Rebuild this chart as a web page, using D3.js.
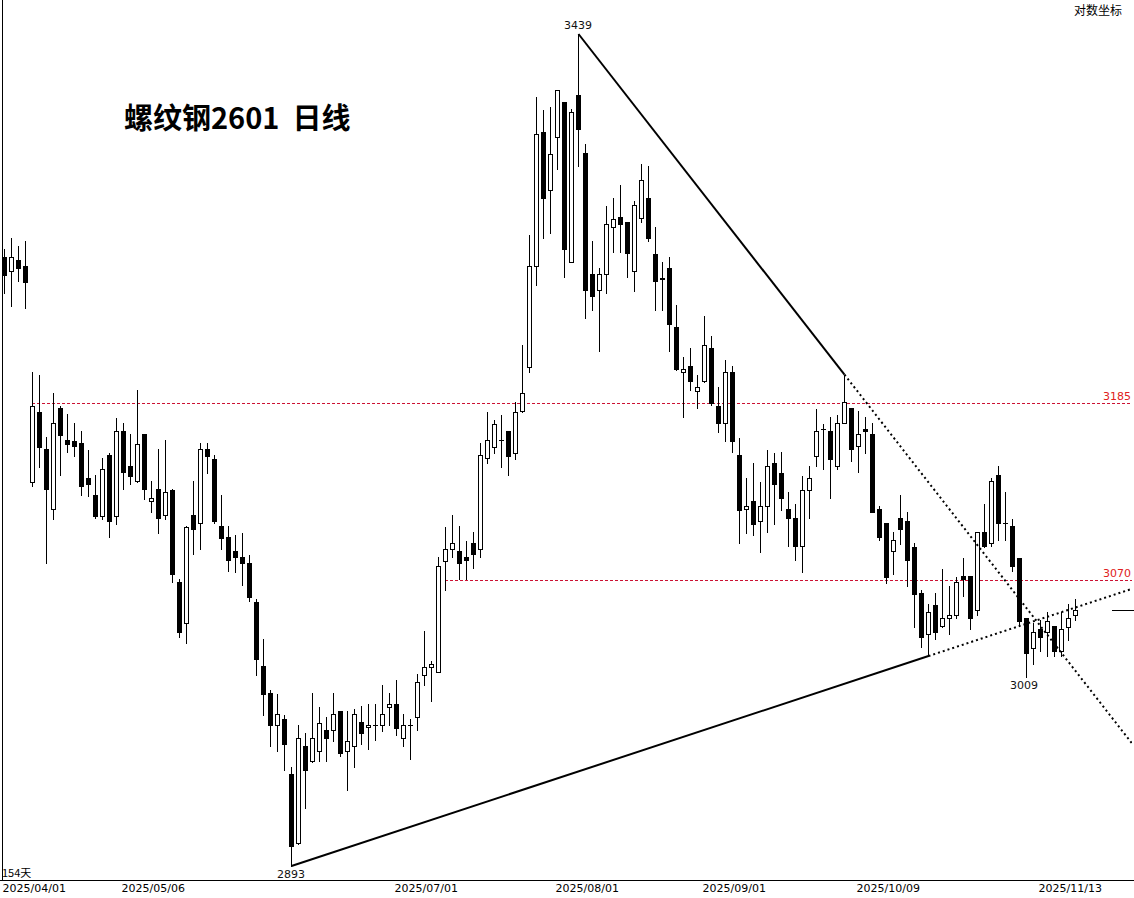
<!DOCTYPE html>
<html><head><meta charset="utf-8">
<script src="https://cdn.jsdelivr.net/npm/d3@7/dist/d3.min.js"></script>
<style>
html,body{margin:0;padding:0;background:#fff;}
svg{display:block;}
</style></head>
<body>
<svg id="chart" width="1134" height="898"></svg>
<script>
// ---- data: 螺纹钢2601 daily OHLC (154 bars) ----
const openP = [3283,3274,3281,3277,3133,3179,3155,3116,3182,3161,
3160,3159,3136,3125,3111,3151,3111,3167,3144,3134,
3165,3121,3129,3112,3128,3069,3043,3112,3107,3155,
3148,3105,3098,3089,3085,3081,3056,3016,2999,2979,
2983,2949,2907,2966,2957,2963,2976,2976,2988,2963,
2966,2981,2978,2979,2979,2990,2992,2971,2979,2984,
3010,3015,3012,3082,3090,3089,3085,3094,3090,3149,
3156,3161,3167,3152,3180,3209,3277,3370,3329,3366,
3391,3280,3396,3355,3272,3261,3272,3304,3311,3307,
3274,3310,3324,3285,3268,3276,3236,3206,3210,3193,
3200,3222,3183,3172,3206,3151,3116,3121,3108,3118,
3146,3139,3116,3110,3092,3128,3150,3168,3167,3144,
3172,3182,3157,3168,3165,3116,3107,3089,3110,3108,
3091,3062,3036,3054,3041,3046,3048,3073,3073,3051,
3101,3094,3138,3107,3105,3084,3046,3027,3039,3037,
3041,3025,3040,3048];
const highP = [3289,3296,3291,3294,3206,3204,3163,3192,3183,3178,
3172,3167,3154,3138,3149,3152,3175,3172,3165,3194,
3165,3134,3155,3161,3129,3071,3105,3134,3159,3159,
3151,3125,3105,3099,3100,3086,3058,3033,3001,2998,
2985,2953,2979,2974,2999,2990,2984,2999,2988,2988,
2989,2991,2992,2992,3004,2999,3007,2986,2983,3011,
3038,3019,3085,3104,3112,3105,3095,3101,3159,3179,
3174,3177,3167,3186,3224,3298,3394,3385,3387,3399,
3391,3386,3439,3361,3294,3276,3318,3324,3333,3307,
3322,3347,3346,3304,3280,3283,3251,3216,3222,3204,
3243,3230,3196,3214,3210,3162,3136,3146,3133,3154,
3152,3153,3127,3119,3137,3144,3181,3171,3176,3177,
3204,3182,3180,3176,3172,3118,3107,3101,3125,3114,
3094,3064,3055,3062,3077,3066,3072,3084,3073,3101,
3119,3136,3144,3127,3109,3084,3046,3043,3045,3050,
3041,3050,3055,3058];
const lowP = [3259,3250,3267,3249,3131,3143,3081,3109,3138,3153,
3150,3125,3124,3110,3109,3098,3106,3129,3132,3133,
3122,3114,3100,3109,3069,3034,3030,3087,3090,3139,
3107,3090,3076,3075,3067,3057,3010,2985,2966,2963,
2951,2893,2906,2928,2956,2957,2957,2969,2960,2939,
2953,2967,2964,2970,2975,2979,2973,2966,2958,2976,
3004,2994,3012,3064,3085,3071,3071,3078,3085,3146,
3152,3143,3138,3148,3179,3206,3264,3296,3300,3344,
3270,3280,3346,3242,3247,3220,3259,3287,3287,3270,
3260,3307,3294,3247,3247,3220,3207,3176,3194,3182,
3199,3184,3166,3160,3153,3094,3100,3099,3088,3101,
3106,3115,3092,3083,3075,3110,3144,3142,3123,3142,
3172,3147,3140,3152,3114,3096,3068,3074,3093,3066,
3040,3028,3022,3033,3040,3036,3046,3060,3039,3048,
3091,3092,3096,3096,3076,3042,3009,3017,3025,3022,
3022,3022,3032,3045];
const closeP = [3271,3283,3276,3266,3183,3156,3129,3172,3164,3158,
3157,3131,3132,3111,3142,3108,3167,3140,3137,3158,
3129,3123,3110,3127,3074,3037,3104,3103,3155,3150,
3108,3097,3083,3085,3081,3059,3020,2998,2979,2986,
2967,2905,2971,2951,2971,2980,2971,2986,2962,2969,
2986,2974,2979,2979,2986,2992,2977,2979,2979,3006,
3015,3017,3079,3090,3094,3081,3083,3087,3151,3161,
3171,3161,3150,3179,3192,3277,3368,3324,3354,3399,
3289,3384,3372,3261,3257,3272,3306,3309,3306,3286,
3319,3336,3296,3267,3269,3238,3208,3208,3200,3196,
3224,3185,3172,3206,3160,3115,3118,3106,3118,3144,
3132,3123,3110,3092,3128,3136,3167,3168,3148,3172,
3186,3155,3165,3167,3114,3098,3072,3096,3103,3083,
3061,3034,3050,3037,3046,3048,3069,3071,3046,3101,
3092,3134,3107,3107,3079,3044,3024,3037,3034,3044,
3025,3039,3046,3051];

const tickIndex = [0, 17, 56, 79, 100, 122, 148];
const tickLabels = ["2025/04/01","2025/05/06","2025/07/01","2025/08/01","2025/09/01","2025/10/09","2025/11/13"];

// horizontal levels [price, start bar]
const levelPrices = [3185, 3070];
const levelStart = [4, 63];

// trend lines: anchor bars and prices
const trendA = {i1: 82, p1: 3439, i2: 120, p2: 3204};
const trendB = {i1: 41, p1: 2893, i2: 132, p2: 3022};

// marked extremes [bar, price]
const markIdx = [82, 41, 146];
const markPrice = [3439, 2893, 3009];

const titleText = "螺纹钢2601  日线";

// ---- drawing ----
const svg = d3.select("#chart");
const W = 1134, H = 898;
const plotL = 2, plotR = 1132, plotB = 880;
const n = openP.length;

const x = d3.scaleLinear().domain([0, n - 1]).range([4, 4 + 7 * (n - 1)]);
const y = d3.scaleLog().domain([2893, 3439]).range([866, 34]);

svg.append("rect").attr("width", W).attr("height", H).attr("fill", "#fff");

svg.append("defs").append("clipPath").attr("id", "plotClip")
  .append("rect").attr("x", plotL).attr("y", 0).attr("width", plotR - plotL).attr("height", plotB);

// frame
svg.append("line").attr("x1", plotL + 0.5).attr("x2", plotL + 0.5).attr("y1", 0).attr("y2", plotB)
  .attr("stroke", "#000").attr("stroke-width", 1);
svg.append("line").attr("x1", 0).attr("x2", W).attr("y1", plotB + 0.5).attr("y2", plotB + 0.5)
  .attr("stroke", "#000").attr("stroke-width", 1);

// horizontal levels
const lev = svg.append("g");
levelPrices.forEach((p, k) => {
  const yy = Math.round(y(p)) + 0.5;
  lev.append("line").attr("x1", x(levelStart[k])).attr("x2", plotR).attr("y1", yy).attr("y2", yy)
    .attr("stroke", "#cc1133").attr("stroke-width", 1).attr("stroke-dasharray", "3,2")
    .attr("shape-rendering", "crispEdges");
  lev.append("text").attr("x", plotR - 1).attr("y", yy - 4).attr("text-anchor", "end")
    .attr("font-family", "DejaVu Sans, sans-serif").attr("font-size", 11).attr("fill", "#e02020")
    .text(p);
});

// candles
const g = svg.append("g").attr("clip-path", "url(#plotClip)");
const idx = d3.range(n);
g.selectAll("line.wick").data(idx).enter().append("line")
  .attr("class", "wick")
  .attr("x1", i => x(i) + 0.5).attr("x2", i => x(i) + 0.5)
  .attr("y1", i => Math.round(y(highP[i]))).attr("y2", i => Math.round(y(lowP[i])) + 1)
  .attr("stroke", "#000").attr("stroke-width", 1);

idx.forEach(i => {
  const top = Math.round(y(Math.max(openP[i], closeP[i])));
  const bot = Math.round(y(Math.min(openP[i], closeP[i])));
  const up = closeP[i] >= openP[i];
  if (bot - top < 1) {
    g.append("line").attr("x1", x(i) - 2).attr("x2", x(i) + 3).attr("y1", top + 0.5).attr("y2", top + 0.5)
      .attr("stroke", "#000").attr("stroke-width", 1);
  } else {
    g.append("rect").attr("x", x(i) - 1.5).attr("y", top + 0.5).attr("width", 4).attr("height", bot - top)
      .attr("fill", up ? "#fff" : "#000").attr("stroke", "#000").attr("stroke-width", 1);
  }
});

// trend lines
function drawTrend(t) {
  const x1 = x(t.i1), y1 = y(t.p1), x2 = x(t.i2), y2 = y(t.p2);
  const slope = (y2 - y1) / (x2 - x1);
  const xe = plotR, ye = y2 + (xe - x2) * slope;
  const tg = svg.append("g").attr("clip-path", "url(#plotClip)");
  tg.append("line").attr("x1", x1 + 0.5).attr("y1", y1).attr("x2", x2 + 0.5).attr("y2", y2)
    .attr("stroke", "#000").attr("stroke-width", 2);
  tg.append("line").attr("x1", x2 + 0.5).attr("y1", y2).attr("x2", xe).attr("y2", ye)
    .attr("stroke", "#000").attr("stroke-width", 2).attr("stroke-dasharray", "2,3");
}
drawTrend(trendA);
drawTrend(trendB);

// extreme labels
markIdx.forEach((bi, k) => {
  const isHigh = bi === 82;
  const yy = isHigh ? y(markPrice[k]) - 5 : y(markPrice[k]) + 12;
  svg.append("text").attr("x", x(bi) + (bi === 146 ? -2 : 0)).attr("y", yy).attr("text-anchor", "middle")
    .attr("font-family", "DejaVu Sans, sans-serif").attr("font-size", 11).attr("fill", "#111")
    .text(markPrice[k]);
});

// last price marker
const yl = Math.round(y(closeP[n - 1])) + 0.5;
svg.append("line").attr("x1", 1112).attr("x2", W).attr("y1", yl).attr("y2", yl).attr("stroke", "#000");

// bottom axis labels
const axis = d3.axisBottom(x).tickValues(tickIndex).tickSize(0).tickPadding(0)
  .tickFormat((d, k) => tickLabels[k]);
const ax = svg.append("g").attr("transform", `translate(0,${plotB + 4})`).call(axis);
ax.select(".domain").remove();
ax.selectAll("text").attr("text-anchor", "start").attr("dx", -2).attr("dy", "0.71em")
  .attr("font-family", "DejaVu Sans, sans-serif").attr("font-size", 11).attr("fill", "#000");

// texts
svg.append("text").attr("x", 2).attr("y", 877).attr("font-family", "Noto Sans CJK SC, DejaVu Sans, sans-serif")
  .attr("font-size", 11).attr("fill", "#000").text("154天");
svg.append("text").attr("x", 1122).attr("y", 15).attr("text-anchor", "end")
  .attr("font-family", "Noto Sans CJK SC, sans-serif").attr("font-size", 12).attr("fill", "#000").text("对数坐标");
svg.append("text").attr("x", 124).attr("y", 129)
  .attr("font-family", "Noto Sans CJK SC, sans-serif").attr("font-size", 29).attr("font-weight", "bold")
  .attr("fill", "#000").style("white-space", "pre").text(titleText);
</script>
</body></html>
